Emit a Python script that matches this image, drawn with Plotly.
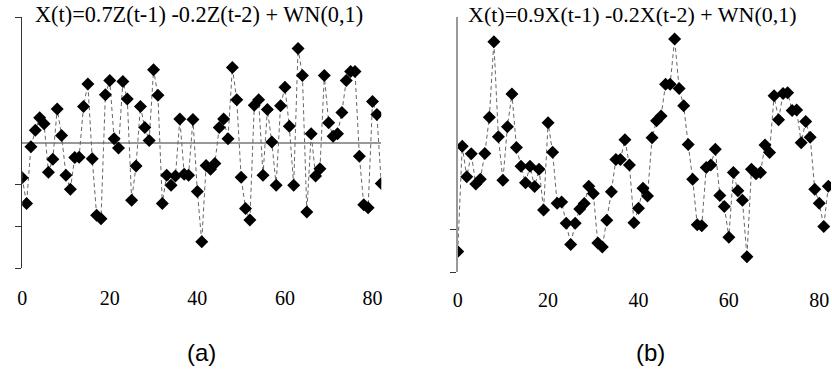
import plotly.graph_objects as go

# ---- data ----
t = list(range(83))
ma_values = [-0.84, -1.46, -0.10, 0.29, 0.59, 0.45, -0.71, -0.40, 0.80, 0.17,
             -0.78, -1.12, -0.36, -0.35, 0.86, 1.40, -0.39, -1.74, -1.82, 1.14,
             1.48, 0.09, -0.13, 1.46, 1.04, -1.38, -0.56, 0.86, 0.36, 0.05,
             1.74, 1.13, -1.46, -0.78, -1.02, -0.80, 0.56, -0.76, -0.78, 0.55,
             -1.17, -2.37, -0.55, -0.64, -0.50, 0.36, 0.56, 0.09, 1.79, 1.02,
             -0.83, -1.58, -1.85, 0.89, 1.02, -0.78, 0.79, 0.01, -1.02, 0.88,
             1.32, 0.39, -1.02, 2.25, 1.60, -1.66, 0.21, -0.80, -0.63, 1.60,
             0.47, 0.15, 0.21, 0.72, 1.48, 1.70, 1.70, -0.33, -1.49, -1.56,
             0.98, 0.67, -0.98]
ar_values = [-2.52, -0.04, -0.76, -0.22, -0.93, -0.82, -0.21, 0.64, 2.42, 0.18,
             -0.84, 0.42, 1.19, -0.07, -0.51, -0.90, -0.51, -0.99, -0.58, -1.54,
             0.51, -0.18, -1.38, -1.35, -1.85, -2.35, -1.85, -1.52, -1.39, -0.98,
             -1.15, -2.32, -2.41, -1.78, -1.11, -0.35, -0.35, 0.11, -0.48, -1.84,
             -1.50, -1.03, -1.21, 0.16, 0.56, 0.67, 1.42, 1.42, 2.48, 1.32,
             0.91, 0.00, -0.82, -1.89, -1.91, -0.54, -0.48, -0.11, -1.20, -1.46,
             -2.18, -0.66, -1.09, -1.31, -2.64, -0.58, -0.69, -0.66, -0.01, -0.19,
             1.15, 0.58, 1.20, 1.22, 0.80, 0.81, 0.04, 0.54, 0.17, -1.05,
             -1.38, -1.93, -0.98]
x_ticks = [0, 20, 40, 60, 80]
left_yticks = [3, -1, -2, -3]
right_yticks = [-2, -3]
title_a = "X(t)=0.7Z(t-1) -0.2Z(t-2) + WN(0,1)"
title_b = "X(t)=0.9X(t-1) -0.2X(t-2) + WN(0,1)"

W, H = 832, 376
serif = "Liberation Serif, Times New Roman, serif"
sans = "Liberation Sans, Arial, sans-serif"

fig = go.Figure()
style = dict(mode="lines+markers",
             line=dict(color="#666", width=1, dash="4px,3px"),
             marker=dict(symbol="diamond", size=10, color="black"),
             showlegend=False, hoverinfo="skip")
fig.add_trace(go.Scatter(x=t, y=ma_values, xaxis="x", yaxis="y", **style))
fig.add_trace(go.Scatter(x=t, y=ar_values, xaxis="x2", yaxis="y2", **style))

def px_x(p):
    return p / W

def px_y(p):
    return 1 - p / H

xcommon = dict(tickvals=x_ticks, ticks="", showgrid=False, zeroline=False,
               showline=False, tickfont=dict(family=serif, size=20, color="black"))
fig.update_layout(
    width=W, height=H, margin=dict(l=0, r=0, t=0, b=0),
    plot_bgcolor="white", paper_bgcolor="white",
    xaxis=dict(domain=[px_x(17.3), px_x(379)], range=[0, 82], anchor="y",
               ticklabelstandoff=16, **xcommon),
    xaxis2=dict(domain=[px_x(456), 1.0], range=[0, 82.6], anchor="y2",
                ticklabelstandoff=14, **xcommon),
    yaxis=dict(domain=[px_y(268), px_y(17)], range=[-3, 3], anchor="x",
               showgrid=False, showticklabels=False, showline=True,
               linecolor="#333", linewidth=1, ticks="outside", ticklen=6,
               tickcolor="#333", tickvals=left_yticks,
               zeroline=True, zerolinecolor="#999", zerolinewidth=2),
    yaxis3=dict(domain=[px_y(268), px_y(17)], range=[-3, 3], anchor="x",
                overlaying="y", showgrid=False, showticklabels=False,
                showline=False, ticks="inside", ticklen=7, tickcolor="#333",
                tickvals=left_yticks, zeroline=False),
    yaxis2=dict(domain=[px_y(272), px_y(17)], range=[-3, 3], anchor="x2",
                showgrid=False, showticklabels=False, showline=True,
                linecolor="#999", linewidth=1.5, ticks="outside", ticklen=6,
                tickcolor="#333", tickvals=right_yticks, zeroline=False),
    yaxis4=dict(domain=[px_y(272), px_y(17)], range=[-3, 3], anchor="x2",
                overlaying="y2", showgrid=False, showticklabels=False,
                showline=False, ticks="inside", ticklen=7, tickcolor="#333",
                tickvals=right_yticks, zeroline=False),
)

ann = dict(xref="paper", yref="paper", showarrow=False,
           xanchor="center", yanchor="middle")
fig.add_annotation(text=title_a, x=px_x(195), y=px_y(15),
                   font=dict(family=serif, size=22.3, color="black"), **ann)
fig.add_annotation(text=title_b, x=px_x(632), y=px_y(15),
                   font=dict(family=serif, size=22, color="black"), **ann)
fig.add_annotation(text="(a)", x=px_x(198), y=px_y(352),
                   font=dict(family=sans, size=24, color="black"), **ann)
fig.add_annotation(text="(b)", x=px_x(650), y=px_y(352),
                   font=dict(family=sans, size=24, color="black"), **ann)

fig.write_html("out.html")
